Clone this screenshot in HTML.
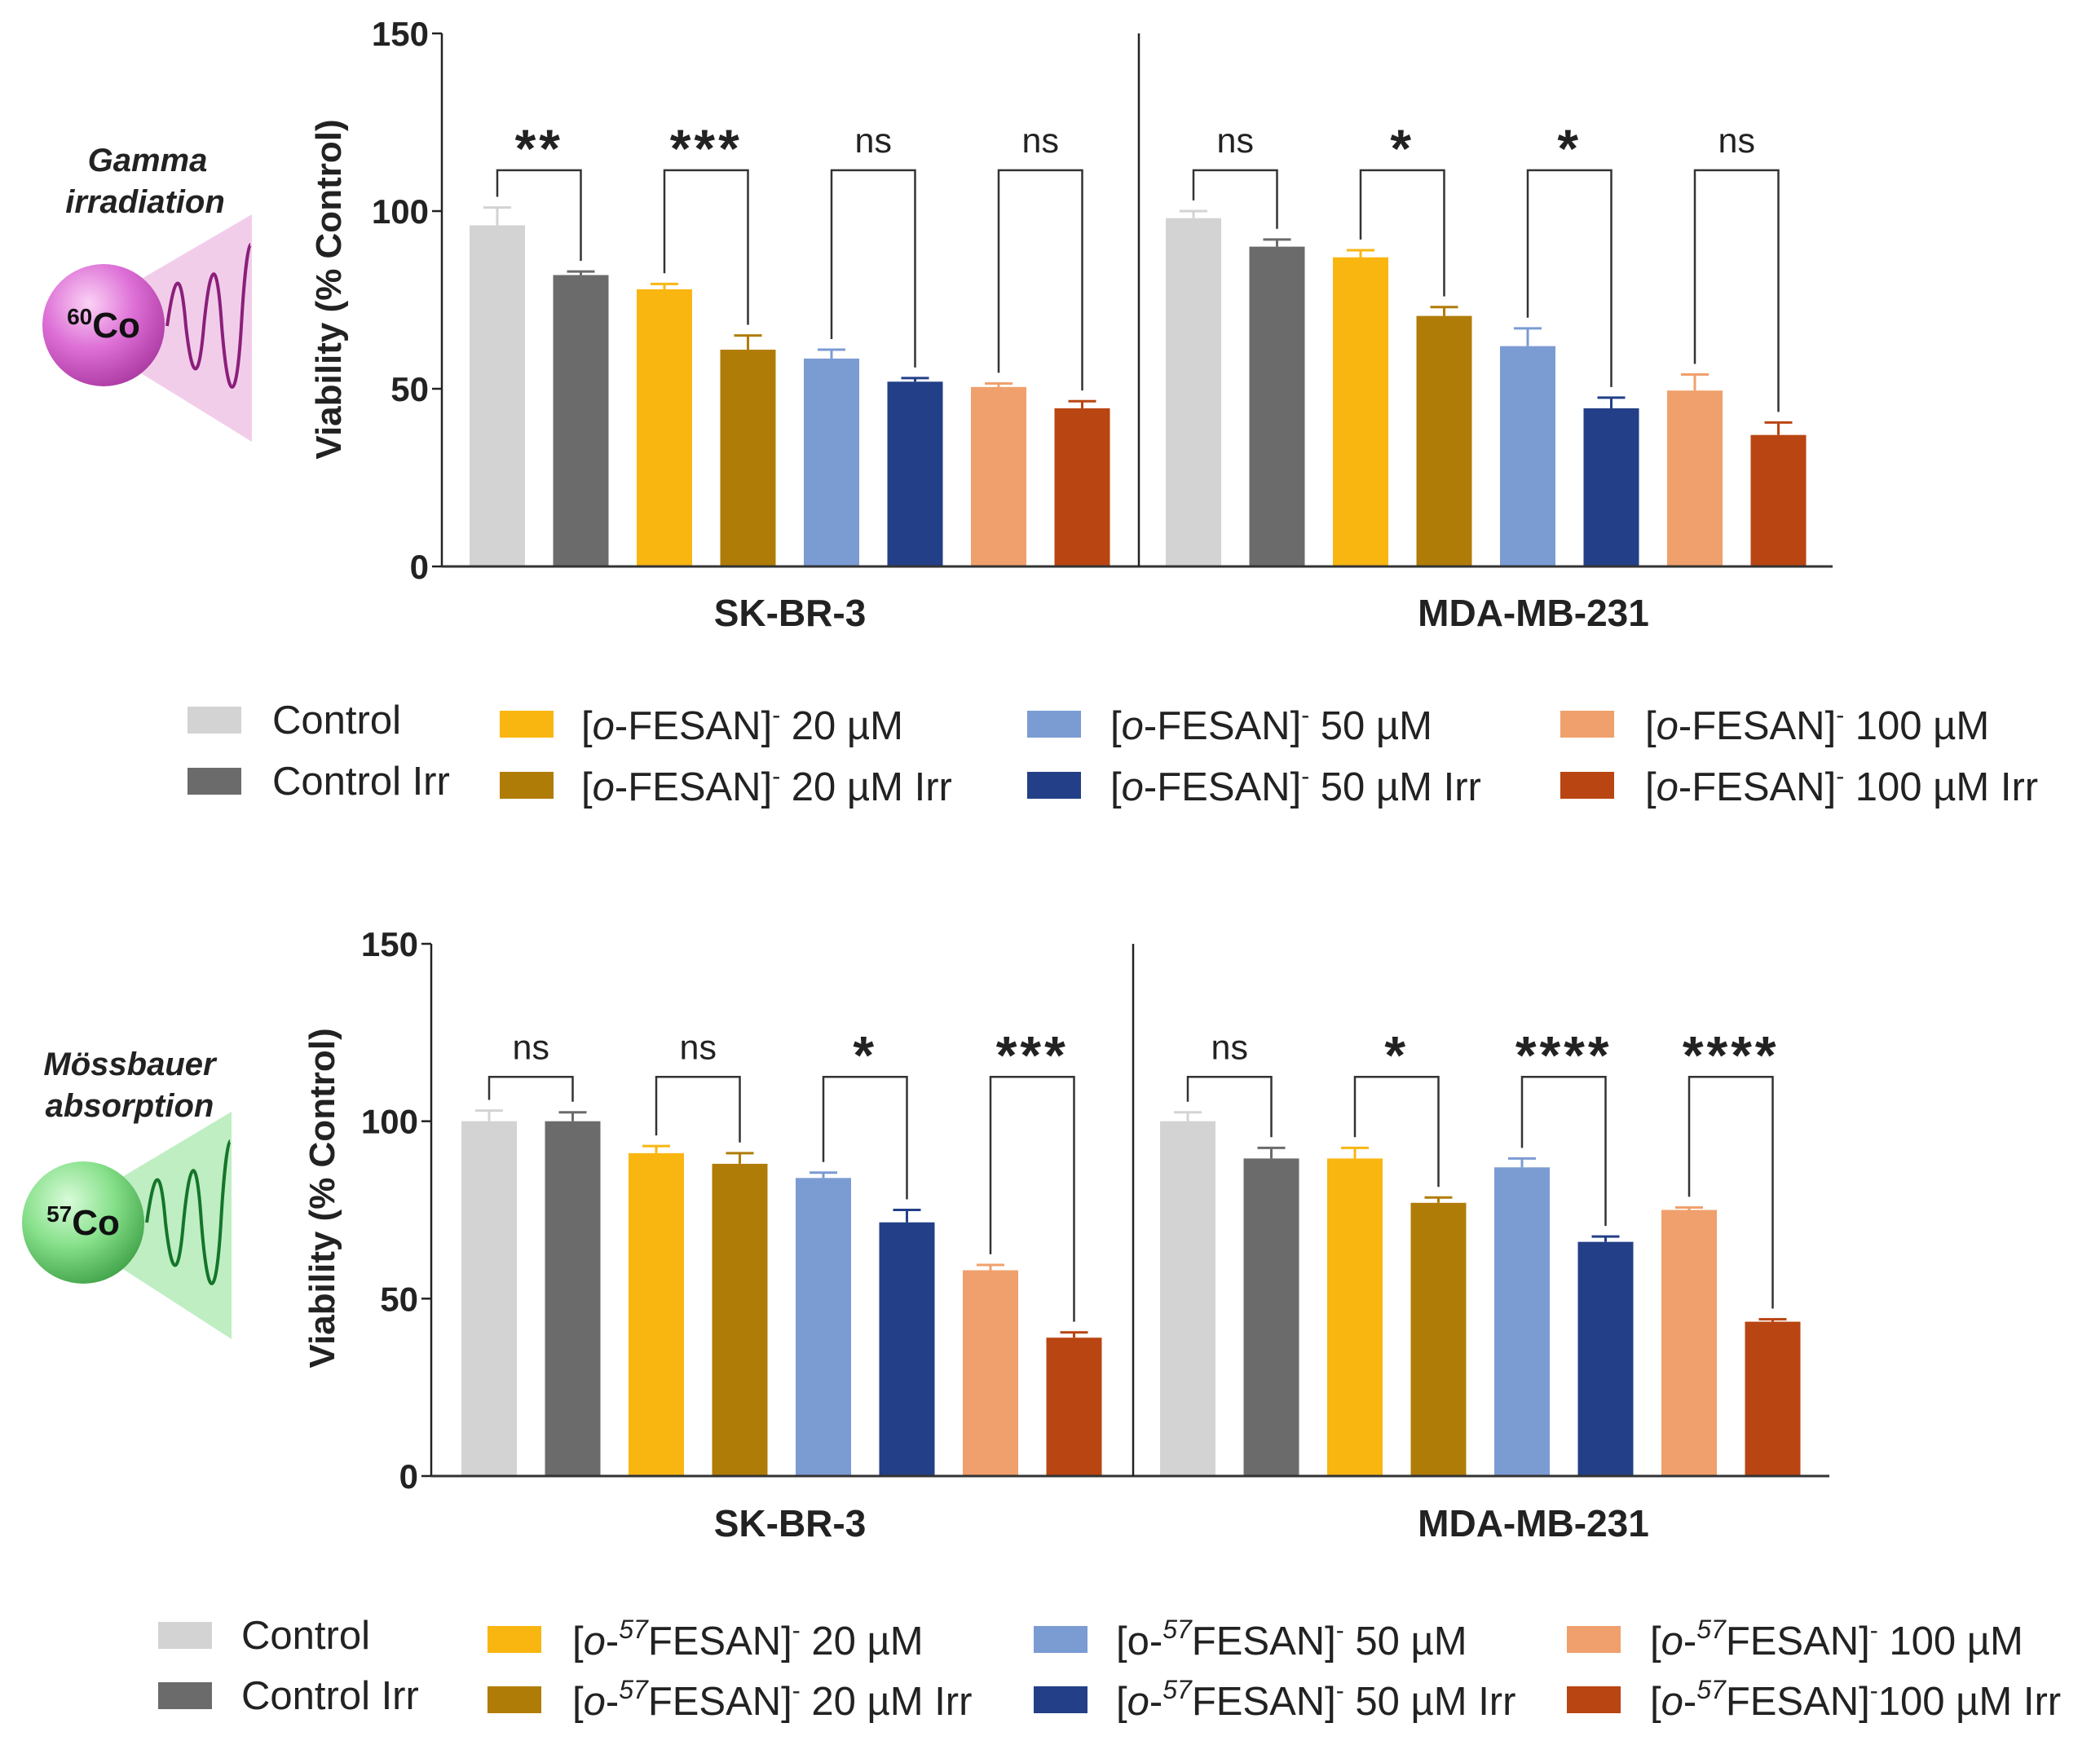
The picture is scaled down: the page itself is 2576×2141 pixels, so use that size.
<!DOCTYPE html>
<html><head><meta charset="utf-8"><style>
html,body{margin:0;padding:0;background:#fff}
svg{display:block}
text{font-family:"Liberation Sans",Arial,sans-serif}
</style></head><body>
<svg id="fig" width="2576" height="2141" viewBox="0 0 2576 2141" xmlns="http://www.w3.org/2000/svg">
<defs>
<radialGradient id="gPink" cx="0.38" cy="0.32" r="0.75"><stop offset="0" stop-color="#fbd2f5"/><stop offset="0.5" stop-color="#dd6fd6"/><stop offset="1" stop-color="#a8369f"/></radialGradient>
<radialGradient id="gGreen" cx="0.38" cy="0.32" r="0.75"><stop offset="0" stop-color="#d9fbd9"/><stop offset="0.5" stop-color="#86e08a"/><stop offset="1" stop-color="#3d9f45"/></radialGradient>
</defs>
<g>
<polygon points="160,350 309,263 309,542 160,450" fill="#f2cdea"/>
<path d="M205,400 C215,330 222,330 228,400 C236,470 244,470 250,400 C258,320 266,310 272,400 C280,500 290,500 296,400 C300,330 305,300 307,300" fill="none" stroke="#8a1f7a" stroke-width="4"/>
<circle cx="127" cy="399" r="75" fill="url(#gPink)"/>
<text x="127" y="414" text-anchor="middle" font-size="44" font-weight="bold" fill="#111"><tspan font-size="28" dy="-16">60</tspan><tspan dy="16">Co</tspan></text>
<text x="181" y="210" text-anchor="middle" font-size="40" font-weight="bold" font-style="italic" fill="#222">Gamma</text>
<text x="178" y="261" text-anchor="middle" font-size="40" font-weight="bold" font-style="italic" fill="#222">irradiation</text>
</g>
<g>
<polygon points="140,1450 284,1364 284,1643 140,1550" fill="#bfeec3"/>
<path d="M180,1500 C190,1430 197,1430 203,1500 C211,1570 219,1570 225,1500 C233,1420 241,1410 247,1500 C255,1600 265,1600 271,1500 C275,1430 280,1400 282,1400" fill="none" stroke="#15752a" stroke-width="4"/>
<circle cx="102" cy="1500" r="75" fill="url(#gGreen)"/>
<text x="102" y="1515" text-anchor="middle" font-size="44" font-weight="bold" fill="#111"><tspan font-size="28" dy="-16">57</tspan><tspan dy="16">Co</tspan></text>
<text x="159" y="1319" text-anchor="middle" font-size="40" font-weight="bold" font-style="italic" fill="#222">Mössbauer</text>
<text x="159" y="1370" text-anchor="middle" font-size="40" font-weight="bold" font-style="italic" fill="#222">absorption</text>
</g>
<g id="charts"></g>
<g font-size="49" fill="#222">
<rect x="230" y="867" width="66" height="33" fill="#d3d3d3"/>
<text x="334" y="900">Control</text>
<rect x="230" y="942" width="66" height="33" fill="#6b6b6b"/>
<text x="334" y="975">Control Irr</text>
<rect x="613" y="872" width="66" height="33" fill="#f9b611"/>
<text x="713" y="907">[<tspan font-style="italic">o</tspan>-FESAN]<tspan font-size="30" dy="-20">-</tspan><tspan dy="20"> 20 µM</tspan></text>
<rect x="613" y="947" width="66" height="33" fill="#b07c08"/>
<text x="713" y="982">[<tspan font-style="italic">o</tspan>-FESAN]<tspan font-size="30" dy="-20">-</tspan><tspan dy="20"> 20 µM Irr</tspan></text>
<rect x="1260" y="872" width="66" height="33" fill="#7b9bd3"/>
<text x="1362" y="907">[<tspan font-style="italic">o</tspan>-FESAN]<tspan font-size="30" dy="-20">-</tspan><tspan dy="20"> 50 µM</tspan></text>
<rect x="1260" y="947" width="66" height="33" fill="#233f87"/>
<text x="1362" y="982">[<tspan font-style="italic">o</tspan>-FESAN]<tspan font-size="30" dy="-20">-</tspan><tspan dy="20"> 50 µM Irr</tspan></text>
<rect x="1914" y="872" width="66" height="33" fill="#f0a06c"/>
<text x="2018" y="907">[<tspan font-style="italic">o</tspan>-FESAN]<tspan font-size="30" dy="-20">-</tspan><tspan dy="20"> 100 µM</tspan></text>
<rect x="1914" y="947" width="66" height="33" fill="#b94512"/>
<text x="2018" y="982">[<tspan font-style="italic">o</tspan>-FESAN]<tspan font-size="30" dy="-20">-</tspan><tspan dy="20"> 100 µM Irr</tspan></text>
</g>
<g font-size="49" fill="#222">
<rect x="194" y="1990" width="66" height="33" fill="#d3d3d3"/>
<text x="296" y="2023">Control</text>
<rect x="194" y="2064" width="66" height="33" fill="#6b6b6b"/>
<text x="296" y="2097">Control Irr</text>
<rect x="598" y="1995" width="66" height="33" fill="#f9b611"/>
<text x="702" y="2030">[<tspan font-style="italic">o</tspan>-<tspan font-size="32" font-style="italic" dy="-20">57</tspan><tspan dy="20">FESAN]</tspan><tspan font-size="30" dy="-20">-</tspan><tspan dy="20"> 20 µM</tspan></text>
<rect x="598" y="2069" width="66" height="33" fill="#b07c08"/>
<text x="702" y="2104">[<tspan font-style="italic">o</tspan>-<tspan font-size="32" font-style="italic" dy="-20">57</tspan><tspan dy="20">FESAN]</tspan><tspan font-size="30" dy="-20">-</tspan><tspan dy="20"> 20 µM Irr</tspan></text>
<rect x="1268" y="1995" width="66" height="33" fill="#7b9bd3"/>
<text x="1369" y="2030">[o-<tspan font-size="32" font-style="italic" dy="-20">57</tspan><tspan dy="20">FESAN]</tspan><tspan font-size="30" dy="-20">-</tspan><tspan dy="20"> 50 µM</tspan></text>
<rect x="1268" y="2069" width="66" height="33" fill="#233f87"/>
<text x="1369" y="2104">[<tspan font-style="italic">o</tspan>-<tspan font-size="32" font-style="italic" dy="-20">57</tspan><tspan dy="20">FESAN]</tspan><tspan font-size="30" dy="-20">-</tspan><tspan dy="20"> 50 µM Irr</tspan></text>
<rect x="1922" y="1995" width="66" height="33" fill="#f0a06c"/>
<text x="2024" y="2030">[<tspan font-style="italic">o</tspan>-<tspan font-size="32" font-style="italic" dy="-20">57</tspan><tspan dy="20">FESAN]</tspan><tspan font-size="30" dy="-20">-</tspan><tspan dy="20"> 100 µM</tspan></text>
<rect x="1922" y="2069" width="66" height="33" fill="#b94512"/>
<text x="2024" y="2104">[<tspan font-style="italic">o</tspan>-<tspan font-size="32" font-style="italic" dy="-20">57</tspan><tspan dy="20">FESAN]</tspan><tspan font-size="30" dy="-20">-</tspan><tspan dy="20">100 µM Irr</tspan></text>
</g>
</svg>
<script>
const colors = ["#d3d3d3","#6b6b6b","#f9b611","#b07c08","#7b9bd3","#233f87","#f0a06c","#b94512"];
const groups = ["SK-BR-3","MDA-MB-231"];
const yTicks = [0,50,100,150];
const topSK = [96,82,78,61,58.5,52,50.5,44.5];
const topSKerr = [5,1,1.5,4,2.5,1,1,2];
const topMDA = [98,90,87,70.5,62,44.5,49.5,37];
const topMDAerr = [2,2,2,2.5,5,3,4.5,3.5];
const topSig = ["**","***","ns","ns","ns","*","*","ns"];
const botSK = [100,100,91,88,84,71.5,58,39];
const botSKerr = [3,2.5,2,3,1.5,3.5,1.5,1.5];
const botMDA = [100,89.5,89.5,77,87,66,75,43.5];
const botMDAerr = [2.5,3,3,1.5,2.5,1.5,0.7,0.7];
const botSig = ["ns","ns","*","***","ns","*","****","****"];

const NS="http://www.w3.org/2000/svg";
const root=document.getElementById('charts');
function mk(tag,attrs,parent){const e=document.createElementNS(NS,tag);for(const k in attrs)e.setAttribute(k,attrs[k]);parent.appendChild(e);return e;}

function drawChart(cfg,vals1,err1,vals2,err2,sig,name){
  const g=mk('g',{},root);
  
  
  const y=v=>cfg.y0-(v/150)*(cfg.y0-cfg.y150);
  const xBar=(grp,i)=>cfg.x1[grp]+i*cfg.step;
  [[vals1,err1],[vals2,err2]].forEach((pair,grp)=>{
    pair[0].forEach((v,i)=>{
      const cx=xBar(grp,i), top=y(v), et=y(v+pair[1][i]);
      const eb=mk('line',{x1:cx,x2:cx,y1:top,y2:et,stroke:colors[i],'stroke-width':3},g);
      
      
      mk('line',{x1:cx-17,x2:cx+17,y1:et,y2:et,stroke:colors[i],'stroke-width':3},g);
      const r=mk('rect',{x:cx-34,y:top,width:68,height:cfg.y0-top,fill:colors[i]},g);
      
      
    });
  });
  for(let p=0;p<4;p++){
    for(let grp=0;grp<2;grp++){
      const vals=grp?vals2:vals1, errs=grp?err2:err1;
      const i=p*2, a=xBar(grp,i), b=xBar(grp,i+1);
      const by=y(cfg.bracket);
      const la=y(vals[i]+errs[i]+3), lb=y(vals[i+1]+errs[i+1]+3);
      const br=mk('path',{d:`M${a},${la} V${by} H${b} V${lb}`,fill:'none',stroke:'#333','stroke-width':2.5},g);
      
      
      const s=sig[grp*4+p];
      const t=mk('text',{x:(a+b)/2,y:s==='ns'?by-22:by-4,'text-anchor':'middle','font-size':s==='ns'?43:66,'font-weight':s==='ns'?'normal':'bold',fill:'#222','letter-spacing':s==='ns'?0:4},g);
      t.textContent=s;
      
      
    }
  }
  const ax=mk('line',{x1:cfg.ax,x2:cfg.ax,y1:cfg.y150,y2:cfg.y0,stroke:'#222','stroke-width':2.5},g);
  
  
  const xa=mk('line',{x1:cfg.ax,x2:cfg.xend,y1:cfg.y0,y2:cfg.y0,stroke:'#333','stroke-width':3},g);
  
  
  const dv=mk('line',{x1:cfg.div,x2:cfg.div,y1:cfg.y150,y2:cfg.y0,stroke:'#222','stroke-width':2.5},g);
  
  
  yTicks.forEach(v=>{
    mk('line',{x1:cfg.ax-12,x2:cfg.ax,y1:y(v),y2:y(v),stroke:'#222','stroke-width':2.5},g);
    const t=mk('text',{x:cfg.ax-16,y:y(v)+15,'text-anchor':'end','font-size':42,'font-weight':'bold',fill:'#222'},g);
    t.textContent=v;
    
    
  });
  groups.forEach((n,grp)=>{
    const t=mk('text',{x:cfg.catX[grp],y:cfg.catY,'text-anchor':'middle','font-size':46,'font-weight':'bold',fill:'#222'},g);
    t.textContent=n;
    
    
  });
  const yt=mk('text',{x:0,y:0,transform:`translate(${cfg.titleX},${cfg.titleY}) rotate(-90)`,'text-anchor':'middle','font-size':44,'font-weight':'bold',fill:'#222'},g);
  yt.textContent='Viability (% Control)';
  
  
}
drawChart({ax:542,y0:695,y150:41,x1:[610,1464],step:102.5,div:1397,xend:2248,bracket:111.5,catX:[969,1881],catY:768,titleX:418,titleY:355},topSK,topSKerr,topMDA,topMDAerr,topSig,'chart-gamma');
drawChart({ax:529,y0:1811,y150:1158,x1:[600,1457],step:102.5,div:1390,xend:2244,bracket:112.5,catX:[969,1881],catY:1885,titleX:410,titleY:1470},botSK,botSKerr,botMDA,botMDAerr,botSig,'chart-mossbauer');
</script>
</body></html>
